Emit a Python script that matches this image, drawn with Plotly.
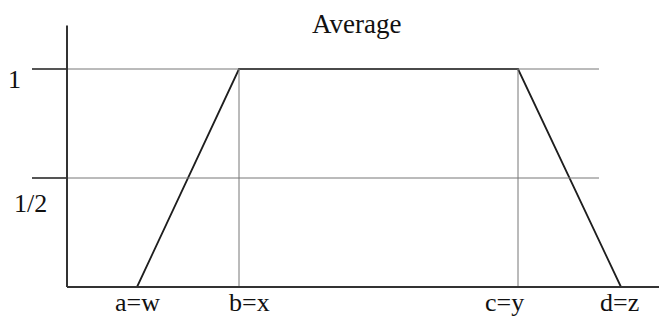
import plotly.graph_objects as go

# ---- data ----
point_labels = ["a=w", "b=x", "c=y", "d=z"]
point_x = [0.70, 1.72, 4.51, 5.54]
membership = [0, 1, 1, 0]
level_values = [1.0, 0.5]
level_labels = ["1", "1/2"]
title_text = "Average"

FONT = "Liberation Serif, Times New Roman, serif"
fs = 26

fig = go.Figure()

# membership trapezoid
fig.add_trace(go.Scatter(x=point_x, y=membership, mode="lines",
                         line=dict(color="#1e1e1e", width=1.8),
                         showlegend=False, hoverinfo="skip"))

shapes = []
# horizontal level lines (thin inside, thicker stub at left)
for lv in level_values:
    shapes.append(dict(type="line", xref="x", yref="y", x0=0, x1=5.32, y0=lv, y1=lv,
                       line=dict(color="#777777", width=1)))
    shapes.append(dict(type="line", xref="x", yref="y", x0=-0.35, x1=0, y0=lv, y1=lv,
                       line=dict(color="#555555", width=2)))
# vertical lines at b and c
for xv in point_x[1:3]:
    shapes.append(dict(type="line", xref="x", yref="y", x0=xv, x1=xv, y0=0, y1=1,
                       line=dict(color="#777777", width=1)))
# axes
shapes.append(dict(type="line", xref="x", yref="y", x0=0, x1=0, y0=0, y1=1.20,
                   line=dict(color="#333333", width=2)))
shapes.append(dict(type="line", xref="x", yref="y", x0=0, x1=6.0, y0=0, y1=0,
                   line=dict(color="#333333", width=2)))

annotations = []
xshifts = [0, 10, -14, -2]
for lab, xv, sh in zip(point_labels, point_x, xshifts):
    annotations.append(dict(text=lab, x=xv, y=0, xref="x", yref="y", showarrow=False,
                            xanchor="center", yanchor="middle", xshift=sh, yshift=-15,
                            font=dict(family=FONT, size=fs, color="#111111")))
ylab_x = [-0.53, -0.365]
ylab_shift = [-10, -25]
for lab, lv, xx, sh in zip(level_labels, level_values, ylab_x, ylab_shift):
    annotations.append(dict(text=lab, x=xx, y=lv, xref="x", yref="y", showarrow=False,
                            xanchor="center", yanchor="middle", yshift=sh,
                            font=dict(family=FONT, size=fs, color="#111111")))
annotations.append(dict(text=title_text, x=2.89, y=1.205, xref="x", yref="y",
                        showarrow=False, xanchor="center", yanchor="middle",
                        font=dict(family=FONT, size=27, color="#111111")))

fig.update_layout(
    width=659, height=320,
    margin=dict(l=0, r=0, t=0, b=0),
    paper_bgcolor="white", plot_bgcolor="white",
    xaxis=dict(range=[-0.67, 5.92], visible=False, fixedrange=True),
    yaxis=dict(range=[-33 / 218, 287 / 218], visible=False, fixedrange=True),
    shapes=shapes, annotations=annotations,
)

fig.write_html("out.html", config={"displayModeBar": False},
               post_script="document.body.style.margin='0';document.body.style.overflow='hidden';")
